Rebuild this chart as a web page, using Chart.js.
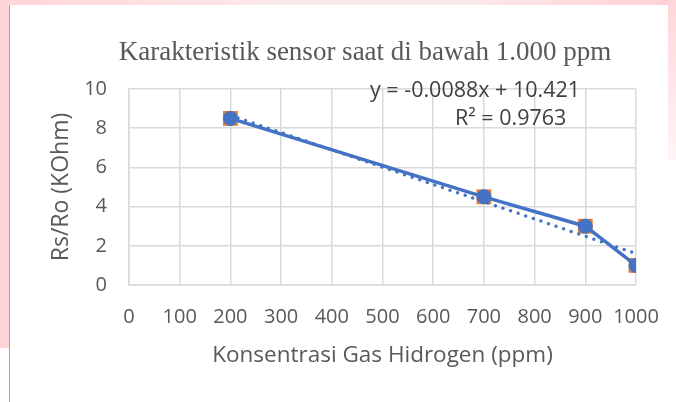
<!DOCTYPE html>
<html lang="id">
<head>
    <meta charset="UTF-8">
    <title>Karakteristik sensor</title>
    <script src="https://cdn.jsdelivr.net/npm/chart.js"></script>
    <style>
        html, body { margin: 0; padding: 0; background: #ffffff; }
        body { width: 676px; height: 402px; position: relative; overflow: hidden; }
        .pinkKiri { position: absolute; left: 0; top: 0; width: 9px; height: 348px; background: #ffd5d9; }
        .pinkAtas { position: absolute; left: 0; top: 0; width: 676px; height: 5px;
            background: linear-gradient(to right, #ffd5d9, #fbe8ea 40%, #fbe8ea 70%, #ffd0d5); }
        .pinkKanan { position: absolute; right: 0; top: 0; width: 8px; height: 160px;
            background: linear-gradient(to bottom, #ffd5d9, #fff5f6); }
        .garis { position: absolute; left: 9px; top: 5px; width: 1px; height: 397px; background: #a6a6a6; }
        #grafik { position: absolute; left: 10px; top: 5px; }
    </style>
</head>
<body>
    <div class="pinkKiri"></div>
    <div class="pinkAtas"></div>
    <div class="pinkKanan"></div>
    <div class="garis"></div>
    <canvas id="grafik" width="658" height="397"></canvas>

<script>
    // data
    const konsentrasi = [200, 700, 900, 1000];
    const rsRo = [8.5, 4.5, 3.0, 1.0];
    const tickX = [0, 100, 200, 300, 400, 500, 600, 700, 800, 900, 1000];
    const tickY = [0, 2, 4, 6, 8, 10];

    const judul = 'Karakteristik sensor saat di bawah 1.000 ppm';
    const judulX = 'Konsentrasi Gas Hidrogen (ppm)';
    const judulY = 'Rs/Ro (KOhm)';

    // regresi linear (trendline seperti di Excel)
    function regresi(xs, ys) {
        var n = xs.length;
        var mx = xs.reduce((a, b) => a + b, 0) / n;
        var my = ys.reduce((a, b) => a + b, 0) / n;
        var sxx = 0, sxy = 0, syy = 0;
        for (let i = 0; i < n; i++) {
            sxx += (xs[i] - mx) * (xs[i] - mx);
            sxy += (xs[i] - mx) * (ys[i] - my);
            syy += (ys[i] - my) * (ys[i] - my);
        }
        var m = sxy / sxx;
        var b = my - m * mx;
        var ssres = 0;
        for (let i = 0; i < n; i++) {
            var e = ys[i] - (m * xs[i] + b);
            ssres += e * e;
        }
        return { m: m, b: b, r2: 1 - ssres / syy };
    }
    const tren = regresi(konsentrasi, rsRo);
    const xMin = Math.min(...konsentrasi);
    const xMax = Math.max(...konsentrasi);
    const garisTren = [
        { x: xMin, y: tren.m * xMin + tren.b },
        { x: xMax, y: tren.m * xMax + tren.b }
    ];
    const teksPersamaan = 'y = ' + tren.m.toFixed(4) + 'x + ' + tren.b.toFixed(3);
    const teksR2 = 'R\u00b2 = ' + tren.r2.toFixed(4);

    const titik = konsentrasi.map((x, i) => ({ x: x, y: rsRo[i] }));

    const fontTeks = '"Open Sans", Lato, sans-serif';
    const warnaTeks = '#595959';

    // judul dan label persamaan digambar manual
    const pluginTeks = {
        id: 'pluginTeks',
        afterDraw(chart) {
            const ctx = chart.ctx;
            ctx.save();
            ctx.fillStyle = warnaTeks;
            ctx.textBaseline = 'middle';
            ctx.textAlign = 'center';
            ctx.font = '27px "Liberation Serif", "Times New Roman", serif';
            ctx.fillText(judul, 355, 48);

            ctx.fillStyle = '#404040';
            ctx.font = '21.5px ' + fontTeks;
            ctx.textAlign = 'left';
            ctx.fillText(teksPersamaan, 360, 86);
            ctx.fillText(teksR2, 445, 114);
            ctx.restore();
        }
    };

    new Chart(document.getElementById('grafik'), {
        type: 'scatter',
        data: {
            datasets: [
                {
                    label: 'Rs/Ro',
                    data: titik,
                    showLine: true,
                    borderColor: '#4472c4',
                    backgroundColor: '#4472c4',
                    borderWidth: 3.5,
                    pointRadius: 7.5,
                    pointBorderWidth: 0,
                    order: 0
                },
                {
                    label: 'Trendline',
                    data: garisTren,
                    showLine: true,
                    borderColor: '#4472c4',
                    borderWidth: 3.5,
                    borderDash: [0, 8],
                    borderCapStyle: 'round',
                    pointRadius: 0,
                    order: 1
                },
                {
                    label: 'Marker',
                    data: titik,
                    showLine: false,
                    pointStyle: 'rect',
                    pointRadius: 10.5,
                    pointBorderWidth: 0,
                    backgroundColor: '#ed7d31',
                    borderColor: '#ed7d31',
                    order: 2
                }
            ]
        },
        options: {
            responsive: false,
            animation: false,
            layout: { padding: { left: 0, right: 32, top: 84, bottom: 0 } },
            plugins: {
                legend: { display: false },
                tooltip: { enabled: false }
            },
            scales: {
                x: {
                    type: 'linear',
                    min: 0,
                    max: 1000,
                    afterBuildTicks(s) { s.ticks = tickX.map(v => ({ value: v })); },
                    afterFit(s) { s.height = 117; s.paddingLeft = 0; s.paddingRight = 0; },
                    grid: { color: '#d9d9d9', lineWidth: 1.5, drawTicks: false },
                    border: { color: '#d9d9d9', width: 1.5 },
                    ticks: {
                        color: warnaTeks, font: { family: fontTeks, size: 20 }, padding: 20,
                        maxRotation: 0, autoSkip: false,
                        callback: v => String(v)
                    },
                    title: { display: true, text: judulX, color: warnaTeks, font: { family: fontTeks, size: 22.5 }, padding: { top: 4, bottom: 33 } }
                },
                y: {
                    min: 0,
                    max: 10,
                    afterBuildTicks(s) { s.ticks = tickY.map(v => ({ value: v })); },
                    afterFit(s) { s.width = 119; s.paddingTop = 0; s.paddingBottom = 0; },
                    grid: { color: '#d9d9d9', lineWidth: 1.5, drawTicks: false },
                    border: { color: '#d9d9d9', width: 1.5 },
                    ticks: { color: warnaTeks, font: { family: fontTeks, size: 20 }, padding: 22 },
                    title: { display: true, text: judulY, color: warnaTeks, font: { family: fontTeks, size: 23 }, padding: { top: 38, bottom: 0 } }
                }
            }
        },
        plugins: [pluginTeks]
    });
</script>
</body>
</html>
